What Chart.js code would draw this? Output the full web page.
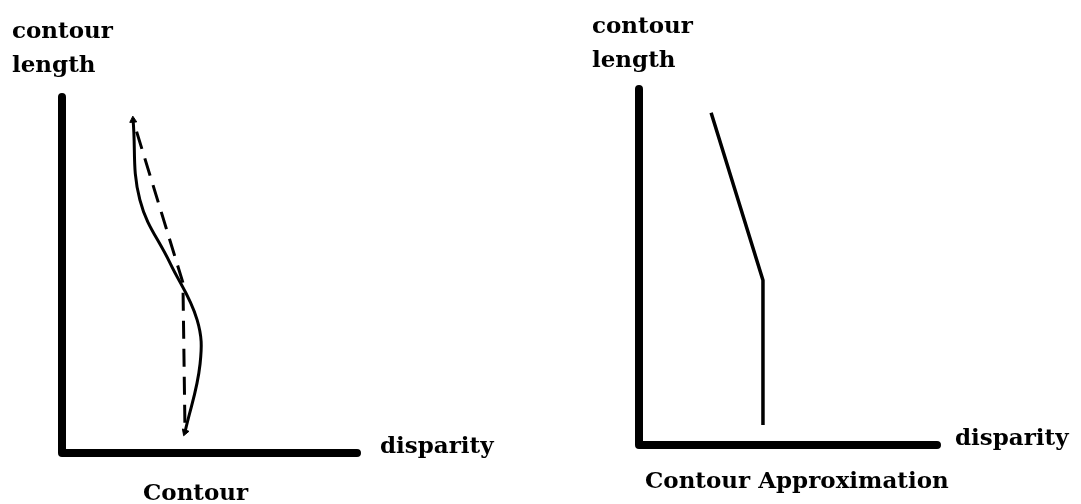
<!DOCTYPE html>
<html>
<head>
<meta charset="utf-8">
<script src="https://cdn.jsdelivr.net/npm/chart.js@4"></script>
<style>
  body { margin: 0; background: #fff; }
  #wrap { position: relative; width: 1081px; height: 504px; }
  canvas { position: absolute; top: 0; }
</style>
</head>
<body>
<div id="wrap">
  <canvas id="leftChart" width="540" height="504" style="left:0"></canvas>
  <canvas id="rightChart" width="541" height="504" style="left:540px"></canvas>
</div>
<script>
// disparity (x) and contour length (y), both on a 0..10 scale
const contourX = [2.41, 2.64, 3.66, 4.58, 4.68, 4.17];
const contourY = [9.35, 7.11, 5.34, 3.74, 2.50, 0.59];

const overlayX = [2.41, 4.10, 4.17];
const overlayY = [9.35, 4.78, 0.59];

const approxX = [2.42, 4.16, 4.16];
const approxY = [9.33, 4.63, 0.56];

const yAxisLabel = ['contour', 'length'];
const xAxisLabel = 'disparity';
const captions = ['Contour', 'Contour Approximation'];

const FONT = 'bold 23px "DejaVu Serif"';

function toPoints(xs, ys) {
    return xs.map((x, i) => ({ x: x, y: ys[i] }));
}

// L shaped axes plus the labels, placed relative to the chart area
const figurePlugin = {
    id: 'figure',
    beforeDatasetsDraw(chart, args, opts) {
        const a = chart.chartArea;
        const ctx = chart.ctx;
        ctx.save();
        ctx.strokeStyle = '#000';
        ctx.lineWidth = 8;
        ctx.lineCap = 'round';
        ctx.lineJoin = 'round';
        ctx.beginPath();
        ctx.moveTo(a.left, a.top);
        ctx.lineTo(a.left, a.bottom);
        ctx.lineTo(a.right, a.bottom);
        ctx.stroke();

        ctx.fillStyle = '#000';
        ctx.font = FONT;
        ctx.textAlign = 'left';
        ctx.textBaseline = 'alphabetic';
        yAxisLabel.forEach((t, i) => {
            ctx.fillText(t, a.left + opts.yLabelDx, a.top + opts.yLabelDy + i * 34);
        });
        ctx.fillText(xAxisLabel, a.right + opts.xLabelDx, a.bottom);
        ctx.fillText(opts.caption, a.left + opts.captionDx, a.bottom + opts.captionDy);
        ctx.restore();
    }
};

function makeChart(canvasId, datasets, padding, labelOpts) {
    const ctx = document.getElementById(canvasId);
    return new Chart(ctx, {
        type: 'scatter',
        data: { datasets: datasets },
        options: {
            responsive: false,
            animation: false,
            layout: { padding: padding },
            plugins: {
                legend: { display: false },
                tooltip: { enabled: false },
                figure: labelOpts
            },
            scales: {
                x: { type: 'linear', min: 0, max: 10, display: false },
                y: { type: 'linear', min: 0, max: 10, display: false }
            }
        },
        plugins: [figurePlugin]
    });
}

const n = contourX.length;
const arrowRadius = contourX.map((v, i) => (i == 0 || i == n - 1) ? 4 : 0);
const arrowRotation = contourX.map((v, i) => i == 0 ? -4 : (i == n - 1 ? 200 : 0));

makeChart('leftChart', [
    {
        label: 'contour',
        data: toPoints(contourX, contourY),
        showLine: true,
        borderColor: '#000',
        borderWidth: 3,
        tension: 0.4,
        pointStyle: 'triangle',
        pointRadius: arrowRadius,
        pointRotation: arrowRotation,
        pointBackgroundColor: '#000',
        pointBorderColor: '#000',
        pointBorderWidth: 1,
        clip: false
    },
    {
        label: 'approximation',
        data: toPoints(overlayX, overlayY),
        showLine: true,
        borderColor: '#000',
        borderWidth: 3,
        borderDash: [18, 10],
        borderDashOffset: -12,
        tension: 0,
        pointRadius: 0,
        clip: false
    }
], { left: 62, top: 97, right: 183, bottom: 51 },
   { yLabelDx: -50, yLabelDy: -59, xLabelDx: 23, captionDx: 81, captionDy: 47, caption: captions[0] });

makeChart('rightChart', [
    {
        label: 'approximation',
        data: toPoints(approxX, approxY),
        showLine: true,
        borderColor: '#000',
        borderWidth: 3.5,
        tension: 0,
        pointRadius: 0,
        clip: false
    }
], { left: 99, top: 89, right: 144, bottom: 59 },
   { yLabelDx: -47, yLabelDy: -56, xLabelDx: 18, captionDx: 6, captionDy: 43, caption: captions[1] });
</script>
</body>
</html>
